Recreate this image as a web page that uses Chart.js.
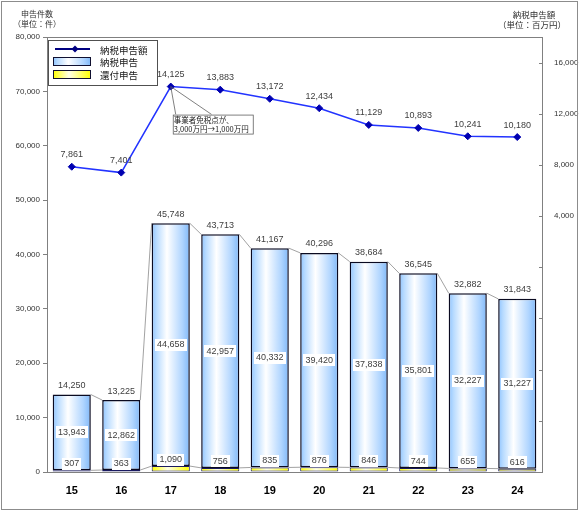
<!DOCTYPE html>
<html><head><meta charset="utf-8">
<script src="https://cdn.jsdelivr.net/npm/chart.js@4.4.0/dist/chart.umd.min.js"></script>
<style>html,body{margin:0;padding:0;background:#fff;}#wrap{width:580px;height:512px;position:relative;}</style>
</head><body><div id="wrap"><canvas id="c" width="580" height="512"></canvas></div>
<script>
const years = ['15','16','17','18','19','20','21','22','23','24'];
const taxFilings = [13943,12862,44658,42957,40332,39420,37838,35801,32227,31227];
const refundFilings = [307,363,1090,756,835,876,846,744,655,616];
const totalFilings = [14250,13225,45748,43713,41167,40296,38684,36545,32882,31843];
const taxAmount = [7861,7401,14125,13883,13172,12434,11129,10893,10241,10180];
const leftTicks = [0,10000,20000,30000,40000,50000,60000,70000,80000];
const rightTicks = [-16000,-12000,-8000,-4000,0,4000,8000,12000,16000];
const leftTitle = ['申告件数','（単位：件）'];
const rightTitle = ['納税申告額','（単位：百万円）'];
const noteText = ['事業者免税点が、','3,000万円→1,000万円'];

const fmt = v => Number(v).toLocaleString('en-US');
const LAT = "'Liberation Sans', Arial, sans-serif";
const JP = "'Noto Sans CJK JP', sans-serif";
const blueStops = [[0,'#8ec3ff'],[0.12,'#b6daff'],[0.4,'#ffffff'],[0.8,'#b0d5ff'],[1,'#80b8f8']];
const yellowStops = [[0,'#ffff00'],[0.42,'#ffffe6'],[1,'#ffff00']];

function gradFor(stops){
  return (c) => {
    const ch = c.chart, xs = ch.scales && ch.scales.x;
    if (c.dataIndex === undefined || !xs || !ch.chartArea) return stops[0][1];
    const cx = xs.getPixelForValue(c.dataIndex);
    const w = xs.width / years.length * 0.77;
    const g = ch.ctx.createLinearGradient(cx - w/2, 0, cx + w/2, 0);
    stops.forEach(s => g.addColorStop(s[0], s[1]));
    return g;
  };
}

function boxText(ctx, text, x, y, font){
  ctx.font = font;
  const w = ctx.measureText(text).width + 4;
  ctx.fillStyle = '#ffffff';
  ctx.fillRect(Math.round(x - w/2), Math.round(y - 6), Math.round(w), 12);
  ctx.fillStyle = '#404040';
  ctx.fillText(text, x, y);
}

const decor = {
  id: 'decor',
  beforeDatasetsDraw(chart){
    const ctx = chart.ctx, ca = chart.chartArea;
    ctx.save();
    ctx.strokeStyle = '#808080'; ctx.lineWidth = 1;
    ctx.beginPath(); ctx.moveTo(ca.left, ca.top + 0.5); ctx.lineTo(ca.right, ca.top + 0.5); ctx.stroke();
    ctx.strokeStyle = '#8a8a8a'; ctx.lineWidth = 0.8;
    [1,2].forEach(di => {
      const els = chart.getDatasetMeta(di).data;
      for (let i = 0; i < els.length - 1; i++){
        const a = els[i], b = els[i+1];
        ctx.beginPath();
        ctx.moveTo(a.x + a.width/2, a.y);
        ctx.lineTo(b.x - b.width/2, b.y);
        ctx.stroke();
      }
    });
    ctx.restore();
  },
  afterDatasetsDraw(chart){
    const ctx = chart.ctx;
    ctx.save();
    ctx.textAlign = 'center'; ctx.textBaseline = 'middle';
    const yel = chart.getDatasetMeta(1).data;
    const blu = chart.getDatasetMeta(2).data;
    const pts = chart.getDatasetMeta(0).data;
    const f9 = '9px ' + LAT;
    for (let i = 0; i < years.length; i++){
      const b = blu[i], yv = yel[i];
      ctx.font = f9; ctx.fillStyle = '#404040';
      ctx.fillText(fmt(totalFilings[i]), b.x, b.y - 9);
      boxText(ctx, fmt(taxFilings[i]), b.x, (b.y + b.base)/2, f9);
      boxText(ctx, fmt(refundFilings[i]), yv.x, yv.y - 6.5, f9);
      const p = pts[i];
      ctx.font = f9; ctx.fillStyle = '#404040';
      ctx.fillText(fmt(taxAmount[i]), p.x, p.y - 12);
    }
    const y1 = chart.scales.y1;
    ctx.strokeStyle = '#808080'; ctx.lineWidth = 1;
    rightTicks.forEach(v => {
      const py = Math.round(y1.getPixelForValue(v)) + 0.5;
      ctx.beginPath(); ctx.moveTo(y1.left - 3, py); ctx.lineTo(y1.left, py); ctx.stroke();
    });
    const p = pts[2];
    const bx = p.x + 2, by = p.y + 28, bw = 80, bh = 19;
    ctx.strokeStyle = '#606060'; ctx.lineWidth = 0.8;
    ctx.beginPath();
    ctx.moveTo(p.x + 5, by); ctx.lineTo(p.x, p.y); ctx.lineTo(p.x + 41, by);
    ctx.stroke();
    ctx.fillStyle = '#ffffff'; ctx.fillRect(bx, by, bw, bh);
    ctx.strokeRect(bx + 0.5, by + 0.5, bw, bh);
    ctx.fillStyle = '#202020'; ctx.textAlign = 'left';
    ctx.font = '7.5px ' + JP;
    ctx.fillText(noteText[0], bx + 1, by + 5.5);
    ctx.fillText(noteText[1], bx + 1, by + 14.5);
    ctx.restore();
  },
  afterDraw(chart){
    const ctx = chart.ctx;
    ctx.save();
    ctx.strokeStyle = '#8c8c8c'; ctx.lineWidth = 1;
    ctx.strokeRect(1.5, 1.5, 576, 508);
    ctx.fillStyle = '#303030'; ctx.textBaseline = 'middle'; ctx.textAlign = 'center';
    ctx.font = '8px ' + JP;
    ctx.fillText(leftTitle[0], 37, 14);
    ctx.fillText(leftTitle[1], 37, 24);
    ctx.font = '8.5px ' + JP;
    ctx.fillText(rightTitle[0], 534, 15);
    ctx.fillText(rightTitle[1], 532, 25);
    const lx = 48, ly = 40;
    ctx.fillStyle = '#ffffff'; ctx.fillRect(lx, ly, 109, 45);
    ctx.strokeStyle = '#505050'; ctx.strokeRect(lx + 0.5, ly + 0.5, 109, 45);
    const ds = chart.data.datasets;
    ctx.strokeStyle = '#000080'; ctx.lineWidth = 2;
    ctx.beginPath(); ctx.moveTo(55, 49); ctx.lineTo(90, 49); ctx.stroke();
    ctx.fillStyle = '#000080';
    ctx.beginPath(); ctx.moveTo(75, 45.5); ctx.lineTo(78.5, 49); ctx.lineTo(75, 52.5); ctx.lineTo(71.5, 49); ctx.closePath(); ctx.fill();
    const drawSw = (y, stops) => {
      const g = ctx.createLinearGradient(53, 0, 91, 0);
      stops.forEach(s => g.addColorStop(s[0], s[1]));
      ctx.fillStyle = g; ctx.fillRect(53, y, 38, 9);
      ctx.strokeStyle = '#101030'; ctx.lineWidth = 1; ctx.strokeRect(53.5, y + 0.5, 37, 8);
    };
    drawSw(57, blueStops);
    drawSw(70, yellowStops);
    ctx.fillStyle = '#202020'; ctx.textAlign = 'left'; ctx.font = '9.5px ' + JP;
    ctx.fillText(ds[0].label, 100, 50);
    ctx.fillText(ds[2].label, 100, 62);
    ctx.fillText(ds[1].label, 100, 75);
    ctx.restore();
  }
};

new Chart(document.getElementById('c'), {
  type: 'bar',
  data: {
    labels: years,
    datasets: [
      { type: 'line', label: '納税申告額', data: taxAmount, yAxisID: 'y1', order: 0,
        borderColor: '#2233ff', borderWidth: 1.5, pointStyle: 'rectRot', pointRadius: 3.5,
        pointBackgroundColor: '#0000b0', pointBorderColor: '#0000b0', pointBorderWidth: 1, tension: 0 },
      { label: '還付申告', data: refundFilings, yAxisID: 'y', stack: 's', order: 1,
        backgroundColor: gradFor(yellowStops), borderColor: '#1a1a60', borderWidth: 1, borderSkipped: false,
        categoryPercentage: 1, barPercentage: 0.77 },
      { label: '納税申告', data: taxFilings, yAxisID: 'y', stack: 's', order: 2,
        backgroundColor: gradFor(blueStops), borderColor: '#0a0a20', borderWidth: 1.5, borderSkipped: false,
        categoryPercentage: 1, barPercentage: 0.77 }
    ]
  },
  options: {
    responsive: false, devicePixelRatio: 1, animation: false,
    layout: { padding: { top: 37, left: 0, right: 0, bottom: 0 } },
    plugins: { legend: { display: false }, tooltip: { enabled: false } },
    scales: {
      x: { stacked: true, grid: { display: false }, border: { color: '#808080' },
           ticks: { color: '#000', font: { family: LAT, size: 11, weight: 'bold' }, padding: 4, maxRotation: 0 },
           afterFit: s => { s.height = 40; } },
      y: { stacked: true, position: 'left', min: 0, max: 80000,
           afterBuildTicks: s => { s.ticks = leftTicks.map(v => ({ value: v })); },
           ticks: { color: '#333', font: { family: LAT, size: 8 }, padding: 3, callback: v => fmt(v) },
           grid: { drawOnChartArea: false, tickLength: 4, color: '#808080' },
           border: { color: '#808080' },
           afterFit: s => { s.width = 47; } },
      y1: { position: 'right', min: -16000, max: 18000,
            afterBuildTicks: s => { s.ticks = rightTicks.map(v => ({ value: v })); },
            ticks: { color: '#333', font: { family: LAT, size: 8 }, padding: 4, callback: v => v > 0 ? fmt(v) : '' },
            grid: { display: false, drawOnChartArea: false },
            border: { display: true, color: '#808080' },
            afterFit: s => { s.width = 38; } }
    }
  },
  plugins: [decor]
});
</script></body></html>
